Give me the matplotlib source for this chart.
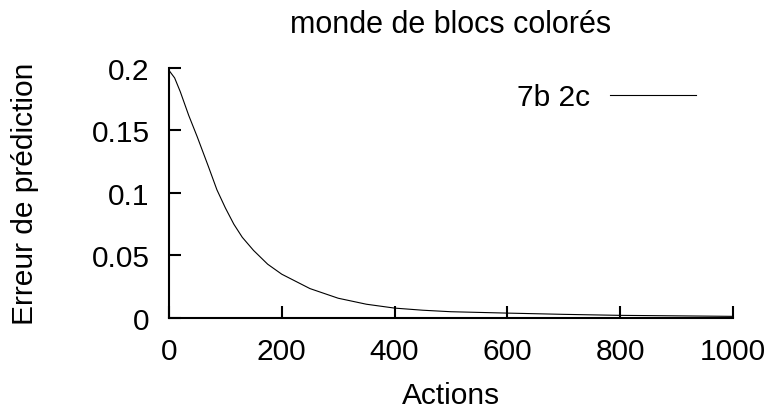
import matplotlib
matplotlib.use("Agg")
import matplotlib.pyplot as plt

# values
actions = [0, 10, 20, 35, 50, 70, 85, 100, 115, 130, 150, 175, 200, 250,
           300, 350, 400, 450, 500, 600, 700, 800, 900, 1000]
erreur = [0.198, 0.192, 0.181, 0.162, 0.145, 0.121, 0.1025, 0.088, 0.075,
          0.0645, 0.054, 0.043, 0.035, 0.0235, 0.0158, 0.011, 0.0079,
          0.0062, 0.005, 0.0039, 0.0029, 0.0021, 0.0017, 0.0013]
serie = "7b 2c"

xticks = [0, 200, 400, 600, 800, 1000]
yticks = [0, 0.05, 0.1, 0.15, 0.2]
ytick_labels = ["0", "0.05", "0.1", "0.15", "0.2"]

plt.rcParams['font.family'] = ['Liberation Sans', 'DejaVu Sans']
fs = 21.5

fig = plt.figure(figsize=(7.73, 4.10), dpi=100)
ax = fig.add_axes([0.2186, 0.222, 0.7296, 0.61])

ax.plot(actions, erreur, color='black', linewidth=0.8, label=serie)

ax.set_xlim(0, 1000)
ax.set_ylim(0, 0.2)
ax.set_xticks(xticks)
ax.set_xticklabels([str(t) for t in xticks])
ax.set_yticks(yticks)
ax.set_yticklabels(ytick_labels)

for side in ['top', 'right']:
    ax.spines[side].set_visible(False)
for side in ['left', 'bottom']:
    ax.spines[side].set_linewidth(1.5)

ax.tick_params(direction='in', length=8.5, width=1.5, labelsize=fs, pad=14)

ax.set_xlabel("Actions", fontsize=fs, labelpad=11.5)
ax.set_ylabel("Erreur de prédiction", fontsize=fs, labelpad=38)
ax.set_title("monde de blocs colorés", fontsize=22, pad=26)

ax.legend(loc='center right', bbox_to_anchor=(0.935, 0.882), frameon=False,
          markerfirst=False, fontsize=fs, handlelength=2.9, handletextpad=0.65,
          borderpad=0, borderaxespad=0)

fig.savefig("out.png", dpi=100)
